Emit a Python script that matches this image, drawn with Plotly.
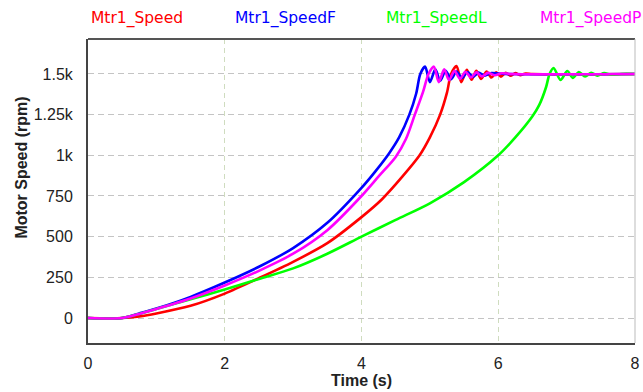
import plotly.graph_objects as go

# ---- data ----
series_names = ["Mtr1_Speed", "Mtr1_SpeedF", "Mtr1_SpeedL", "Mtr1_SpeedP"]
series_colors = ["#ff0000", "#0000ff", "#00ff00", "#ff00ff"]

t_speed = [0, 0.5, 0.75, 1.0, 1.5, 2.0, 2.5, 3.0, 3.5, 4.0, 4.3, 4.6, 4.85, 5.0, 5.15, 5.25, 5.31,
           5.39, 5.46, 5.54, 5.61, 5.68, 5.75, 5.83, 5.90, 5.97, 6.04, 6.11, 6.18, 6.25, 6.32, 6.4, 6.5, 8.0]
v_speed = [0, 0, 10, 28, 75, 150, 245, 345, 460, 620, 730, 870, 1000, 1110, 1250, 1385, 1500,
           1549, 1450, 1525, 1465, 1520, 1470, 1515, 1478, 1510, 1484, 1507, 1489, 1505, 1493, 1503, 1500, 1500]

t_speedF = [0, 0.5, 0.75, 1.0, 1.5, 2.0, 2.5, 3.0, 3.5, 4.0, 4.2, 4.4, 4.55, 4.7, 4.8, 4.86,
            4.93, 5.00, 5.08, 5.15, 5.23, 5.31, 5.39, 5.47, 5.55, 5.63, 5.71, 5.8, 5.9, 6.1, 8.0]
v_speedF = [0, 0, 28, 58, 130, 218, 315, 430, 585, 800, 900, 1010, 1110, 1250, 1380, 1500,
            1545, 1450, 1528, 1458, 1520, 1468, 1515, 1475, 1512, 1482, 1508, 1490, 1505, 1500, 1500]

t_speedL = [0, 0.5, 0.75, 1.0, 1.5, 2.0, 2.5, 3.0, 3.5, 4.0, 4.5, 5.0, 5.5, 6.0, 6.25, 6.5, 6.6, 6.7, 6.75,
            6.81, 6.91, 7.01, 7.09, 7.18, 7.27, 7.36, 7.45, 7.55, 7.65, 7.8, 8.0]
v_speedL = [0, 0, 25, 55, 115, 175, 240, 305, 395, 500, 603, 705, 835, 1000, 1110, 1240, 1310, 1420, 1500,
            1537, 1463, 1518, 1476, 1512, 1485, 1507, 1490, 1505, 1495, 1500, 1500]

t_speedP = [0, 0.5, 0.75, 1.0, 1.5, 2.0, 2.5, 3.0, 3.5, 4.0, 4.25, 4.5, 4.65, 4.78, 4.9, 4.98,
            5.06, 5.13, 5.21, 5.28, 5.36, 5.44, 5.52, 5.6, 5.68, 5.76, 5.85, 5.95, 6.05, 6.2, 8.0]
v_speedP = [0, 0, 25, 55, 120, 200, 290, 395, 540, 750, 870, 990, 1100, 1250, 1390, 1500,
            1545, 1450, 1528, 1462, 1520, 1470, 1514, 1478, 1510, 1485, 1507, 1492, 1504, 1500, 1500]

y_tickvals = [0, 250, 500, 750, 1000, 1250, 1500]
y_ticktext = ["0", "250", "500", "750", "1k", "1.25k", "1.5k"]
x_tickvals = [0, 2, 4, 6, 8]
x_ticktext = ["0", "2", "4", "6", "8"]

xs = [t_speed, t_speedF, t_speedL, t_speedP]
ys = [v_speed, v_speedF, v_speedL, v_speedP]

W, H = 643, 392
ML, MR, MT, MB = 88, 3, 39, 49
PW, PH = W - ML - MR, H - MT - MB

fig = go.Figure()
for name, color, x, y in zip(series_names, series_colors, xs, ys):
    fig.add_trace(go.Scatter(x=x, y=y, name=name, mode="lines",
                             line=dict(color=color, width=2.6, shape="spline", smoothing=0.8),
                             showlegend=False))

# legend as coloured text labels above the plot
legend_px = [89, 234, 387, 542]
legend_py = 18
for name, color, px in zip(series_names, series_colors, legend_px):
    fig.add_annotation(text=name, x=(px - ML) / PW, y=(H - MB - legend_py) / PH,
                       xref="paper", yref="paper",
                       xanchor="left", yanchor="middle", showarrow=False,
                       font=dict(family="DejaVu Sans", size=15.5, color=color))

# y-axis title placed as in the reference
fig.add_annotation(text="<b>Motor Speed (rpm)</b>", textangle=-90,
                   x=(20 - ML) / PW, y=(H - MB - 168) / PH, xref="paper", yref="paper",
                   xanchor="center", yanchor="middle", showarrow=False,
                   font=dict(family="Liberation Sans, Arial", size=16, color="#222"))

fig.update_layout(
    width=W, height=H,
    margin=dict(l=ML, r=MR, t=MT, b=MB),
    plot_bgcolor="white", paper_bgcolor="white",
    font=dict(family="Liberation Sans, Arial", size=16, color="#222"),
    xaxis=dict(range=[0, 8], tickvals=x_tickvals, ticktext=x_ticktext,
               showgrid=True, gridcolor="#cfdcbf", griddash="5px,4px", gridwidth=1,
               zeroline=False, showline=True, linecolor="#444", linewidth=2, mirror=False,
               ticks="", ticklabelstandoff=5, ticklabeloverflow="allow",
               title=dict(text="<b>Time (s)</b>", standoff=4, font=dict(size=16))),
    yaxis=dict(range=[-153.7, 1715], tickvals=y_tickvals, ticktext=y_ticktext,
               showgrid=True, gridcolor="#c4c4c4", griddash="6px,4px", gridwidth=1,
               zeroline=False, showline=True, linecolor="#444", linewidth=2, mirror=False,
               ticks="", ticklabelstandoff=10),
)
# top border (dark) and right border (light)
fig.add_shape(type="line", xref="paper", yref="paper", x0=0, x1=1, y0=1, y1=1,
              line=dict(color="#555", width=2))
fig.add_shape(type="line", xref="paper", yref="paper", x0=1, x1=1, y0=0, y1=1,
              line=dict(color="#bbb", width=1))

fig.write_html("out.html")
